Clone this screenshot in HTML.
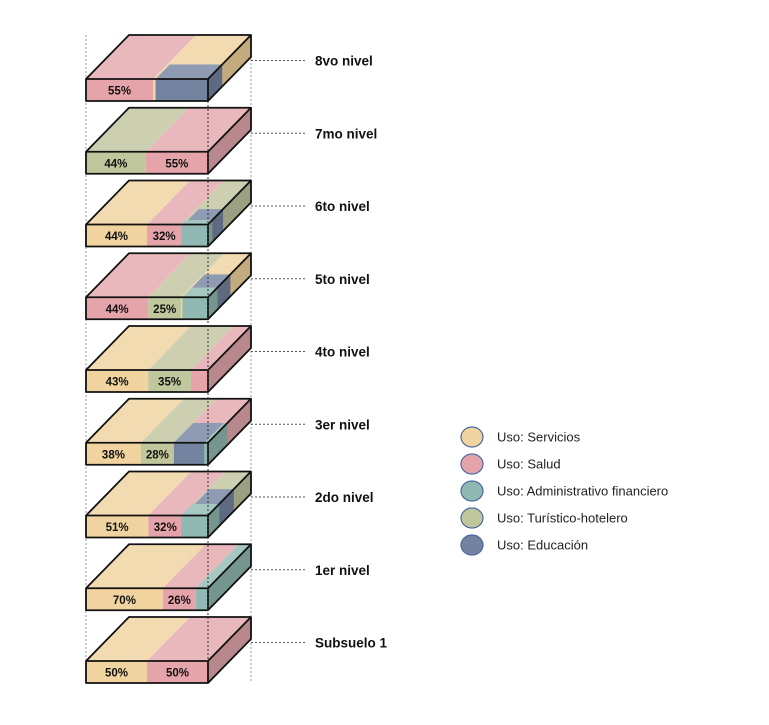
<!DOCTYPE html>
<html><head><meta charset="utf-8"><style>
body{margin:0;background:#fff;}
svg{display:block;font-family:"Liberation Sans",Arial,sans-serif;}
</style></head><body>
<svg id="chart" width="769" height="725" viewBox="0 0 769 725" xmlns="http://www.w3.org/2000/svg"></svg>
<script>
// Floor levels, top to bottom
const levels = ["8vo nivel","7mo nivel","6to nivel","5to nivel","4to nivel","3er nivel","2do nivel","1er nivel","Subsuelo 1"];
// Patches per level: [use, xStart, xEnd, depthStart, depthEnd] as fractions of slab width/depth
const patches8 = [["salud",0,0.55,0,1],["servicios",0.55,1,0,1],["educacion",0.57,1,0,0.33]];
const patches7 = [["turistico",0,0.49,0,1],["salud",0.49,1,0,1]];
const patches6 = [["servicios",0,0.5,0,1],["salud",0.5,0.78,0,1],["turistico",0.78,1,0,1],["admin",0.78,1,0,0.1],["educacion",0.8,1,0.1,0.35]];
const patches5 = [["salud",0,0.51,0,1],["turistico",0.51,0.78,0,1],["servicios",0.78,1,0,1],["admin",0.79,1,0,0.22],["educacion",0.79,1,0.22,0.52]];
const patches4 = [["servicios",0,0.51,0,1],["turistico",0.51,0.86,0,1],["salud",0.86,1,0,1]];
const patches3 = [["servicios",0,0.45,0,1],["turistico",0.45,0.72,0,1],["salud",0.72,1,0,1],["educacion",0.72,0.97,0,0.45],["admin",0.97,1,0,0.45]];
const patches2 = [["servicios",0,0.51,0,1],["salud",0.51,0.79,0,1],["turistico",0.79,1,0,1],["admin",0.78,1,0,0.26],["educacion",0.8,1,0.26,0.6]];
const patches1 = [["servicios",0,0.63,0,1],["salud",0.63,0.9,0,1],["admin",0.9,1,0,1]];
const patches0 = [["servicios",0,0.5,0,1],["salud",0.5,1,0,1]];
const levelPatches = [patches8,patches7,patches6,patches5,patches4,patches3,patches2,patches1,patches0];
// Printed percentages on the front: [use-segment index in patches, label]
const frontLabels = [[[0,"55%"]],[[0,"44%"],[1,"55%"]],[[0,"44%"],[1,"32%"]],[[0,"44%"],[1,"25%"]],[[0,"43%"],[1,"35%"]],[[0,"38%"],[1,"28%"]],[[0,"51%"],[1,"32%"]],[[0,"70%"],[1,"26%"]],[[0,"50%"],[1,"50%"]]];
const legendKeys = ["servicios","salud","admin","turistico","educacion"];
const legendLabels = ["Uso: Servicios","Uso: Salud","Uso: Administrativo financiero","Uso: Turístico-hotelero","Uso: Educación"];

const colors = {
 servicios:{top:"#f2dbb0",front:"#f0d39e",side:"#c4ab7e"},
 salud:{top:"#e9b8bd",front:"#e5a4a9",side:"#b8888c"},
 admin:{top:"#a6c8c3",front:"#8fb9b2",side:"#74968f"},
 turistico:{top:"#ccd0b0",front:"#c0c79c",side:"#9ba082"},
 educacion:{top:"#8f9bb3",front:"#73829f",side:"#5d6a82"}
};
const NS="http://www.w3.org/2000/svg";
const svg=document.getElementById("chart");
const X0=86, W=122, DX=43, DY=-44, H=22, TOP0=79, PITCH=72.75;
const xS=f=>X0+f*W;
const yTop=i=>TOP0+i*PITCH;
function mk(tag,attrs,parent){const e=document.createElementNS(NS,tag);for(const k in attrs)e.setAttribute(k,attrs[k]);(parent||svg).appendChild(e);return e;}

// background dotted guides
const guides=mk("g",{});


[X0,X0+W+DX].forEach(x=>{mk("line",{x1:x,y1:yTop(0)+DY,x2:x,y2:yTop(levels.length-1)+H,stroke:"#999","stroke-width":1,"stroke-dasharray":"2,2"},guides);});

levels.forEach((name,i)=>{
 const y=yTop(i);
 const g=mk("g",{});
 
 
 const P=levelPatches[i];
 P.forEach(p=>{
  const [u,a,b,d0,d1]=p;
  const pt=(f,d)=>[xS(f)+d*DX,y+d*DY];
  const q=[pt(a,d0),pt(b,d0),pt(b,d1),pt(a,d1)];
  const poly=mk("polygon",{points:q.map(v=>v.join(",")).join(" "),fill:colors[u].top},g);
  
  
  if(d0===0){const r=mk("rect",{x:xS(a),y:y,width:xS(b)-xS(a),height:H,fill:colors[u].front},g);
   }
  if(b===1){const xr=xS(1);
   const s=mk("polygon",{points:[[xr+d0*DX,y+d0*DY],[xr+d1*DX,y+d1*DY],[xr+d1*DX,y+H+d1*DY],[xr+d0*DX,y+H+d0*DY]].map(v=>v.join(",")).join(" "),fill:colors[u].side},g);
   }
 });
 // outlines
 const xr=xS(1);
 mk("path",{d:`M${X0},${y} L${X0+DX},${y+DY} L${xr+DX},${y+DY} L${xr+DX},${y+DY+H} L${xr},${y+H} L${X0},${y+H} Z M${X0},${y} L${xr},${y} L${xr+DX},${y+DY} M${xr},${y} L${xr},${y+H}`,fill:"none",stroke:"#111","stroke-width":1.8,"stroke-linejoin":"round"},g);
 frontLabels[i].forEach(fl=>{
  const p=P[fl[0]];
  const t=mk("text",{x:(xS(p[1])+xS(p[2]))/2,y:y+15.5,"text-anchor":"middle","font-size":11.5,"font-weight":"bold",fill:"#111"},g);
  t.textContent=fl[1];
  
 });
 const ly=y-18.5;
 mk("line",{x1:xr+DX,y1:ly,x2:305,y2:ly,stroke:"#555","stroke-width":1,"stroke-dasharray":"2,2"},g);
 const lt=mk("text",{x:315,y:ly+5,"font-size":13.5,"font-weight":"bold",fill:"#111"},g);
 lt.textContent=name;
 
});
// center dotted guide on top
mk("line",{x1:xS(1),y1:yTop(0)+H,x2:xS(1),y2:yTop(levels.length-1),stroke:"#333","stroke-width":1,"stroke-dasharray":"2,2"});

const lg=mk("g",{});


legendKeys.forEach((k,i)=>{
 const cy=437+i*27;
 const e=mk("g",{},lg);
 
 
 mk("ellipse",{cx:472,cy:cy,rx:11,ry:10,fill:colors[k].front,stroke:"#4a68a0","stroke-width":1.2},e);
 const t=mk("text",{x:497,y:cy+4.5,"font-size":13,fill:"#222",textLength:null},e);
 t.removeAttribute("textLength");
 t.textContent=legendLabels[i];
});
</script>
</body></html>
